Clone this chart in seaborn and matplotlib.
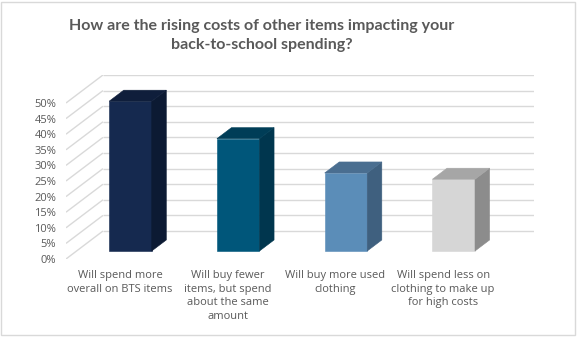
import matplotlib
matplotlib.use("Agg")
import matplotlib.pyplot as plt
from matplotlib.patches import Polygon, Rectangle
import seaborn as sns

# Survey answers and their shares (percent)
categories = [
    "Will spend more\noverall on BTS items",
    "Will buy fewer\nitems, but spend\nabout the same\namount",
    "Will buy more used\nclothing",
    "Will spend less on\nclothing to make up\nfor high costs",
]
shares = [48, 36, 25, 23]
y_ticks = [0, 5, 10, 15, 20, 25, 30, 35, 40, 45, 50]
y_tick_labels = [f"{v}%" for v in y_ticks]
title = "How are the rising costs of other items impacting your\nback-to-school spending?"

front_colors = ["#15294F", "#00567A", "#5B8DB8", "#D6D6D6"]
top_colors = ["#0F1E3B", "#003D57", "#4A6E90", "#A6A6A6"]
side_colors = ["#0C1A33", "#00364E", "#3F607F", "#8C8C8C"]

TEXT = "#595959"
GRID = "#D9D9D9"

# oblique depth vector of the plot box, in data units (categories, percent)
DX, DY = 0.343, 8.97
D_FRONT, D_BACK = 0.286, 0.68   # depth span occupied by the bars

sns.set_theme(style="white")
plt.rcParams["font.family"] = ["Open Sans", "DejaVu Sans"]

W, H = 577, 337
fig = plt.figure(figsize=(W / 100, H / 100), dpi=100)
fig.patch.set_facecolor("white")

ax = fig.add_axes([66 / W, 78 / H, 468 / W, 184 / H])
ax.set_facecolor("none")

sns.barplot(x=categories, y=shares, hue=categories, palette=front_colors,
            width=0.395, legend=False, ax=ax, saturation=1, zorder=3)

ax.set_xlim(-0.5, 3.5 + DX)
ax.set_ylim(0, y_ticks[-1] + DY)

# back wall and side wall gridlines
for v in y_ticks:
    ax.plot([-0.5 + DX, 3.5 + DX], [v + DY, v + DY], color=GRID, lw=1.0,
            zorder=1, solid_capstyle="butt")
    ax.plot([-0.5, -0.5 + DX], [v, v + DY], color=GRID, lw=1.0, zorder=1,
            solid_capstyle="butt")

# push the bars into the box and add their top and side faces
bdx = (D_BACK - D_FRONT) * DX
bdy = (D_BACK - D_FRONT) * DY
for i, p in enumerate(ax.patches[:len(shares)]):
    p.set_x(p.get_x() + D_FRONT * DX)
    p.set_y(p.get_y() + D_FRONT * DY)
    p.set_edgecolor(front_colors[i])
    p.set_linewidth(0.4)
    x0, y0, w, h = p.get_x(), p.get_y(), p.get_width(), p.get_height()
    side = [(x0 + w, y0), (x0 + w + bdx, y0 + bdy),
            (x0 + w + bdx, y0 + h + bdy), (x0 + w, y0 + h)]
    top = [(x0, y0 + h), (x0 + bdx, y0 + h + bdy),
           (x0 + w + bdx, y0 + h + bdy), (x0 + w, y0 + h)]
    ax.add_patch(Polygon(side, closed=True, facecolor=side_colors[i],
                         edgecolor=side_colors[i], lw=0.4, zorder=3))
    ax.add_patch(Polygon(top, closed=True, facecolor=top_colors[i],
                         edgecolor=top_colors[i], lw=0.4, zorder=3))

ax.set_yticks(y_ticks)
ax.set_yticklabels(y_tick_labels)
ax.set_xticks(range(len(categories)))
ax.set_xticklabels(categories, linespacing=1.32)
ax.tick_params(axis="y", length=0, pad=7, labelsize=8, labelcolor=TEXT)
ax.tick_params(axis="x", length=0, pad=8, labelsize=8, labelcolor=TEXT)
for lbl in ax.get_xticklabels():
    lbl.set_horizontalalignment("center")
ax.set_xlabel("")
ax.set_ylabel("")
for s in ax.spines.values():
    s.set_visible(False)

fig.text(261.5 / W, 1 - 35.5 / H, title, ha="center", va="center",
         fontsize=11.5, fontweight="bold", color=TEXT, linespacing=1.5,
         family=["Lato", "DejaVu Sans"])

# chart border
fig.patches.append(Rectangle((1 / W, 2 / H), 574 / W, 333 / H,
                             transform=fig.transFigure, fill=False,
                             edgecolor=GRID, lw=1.0))

fig.savefig("out.png", dpi=100)
